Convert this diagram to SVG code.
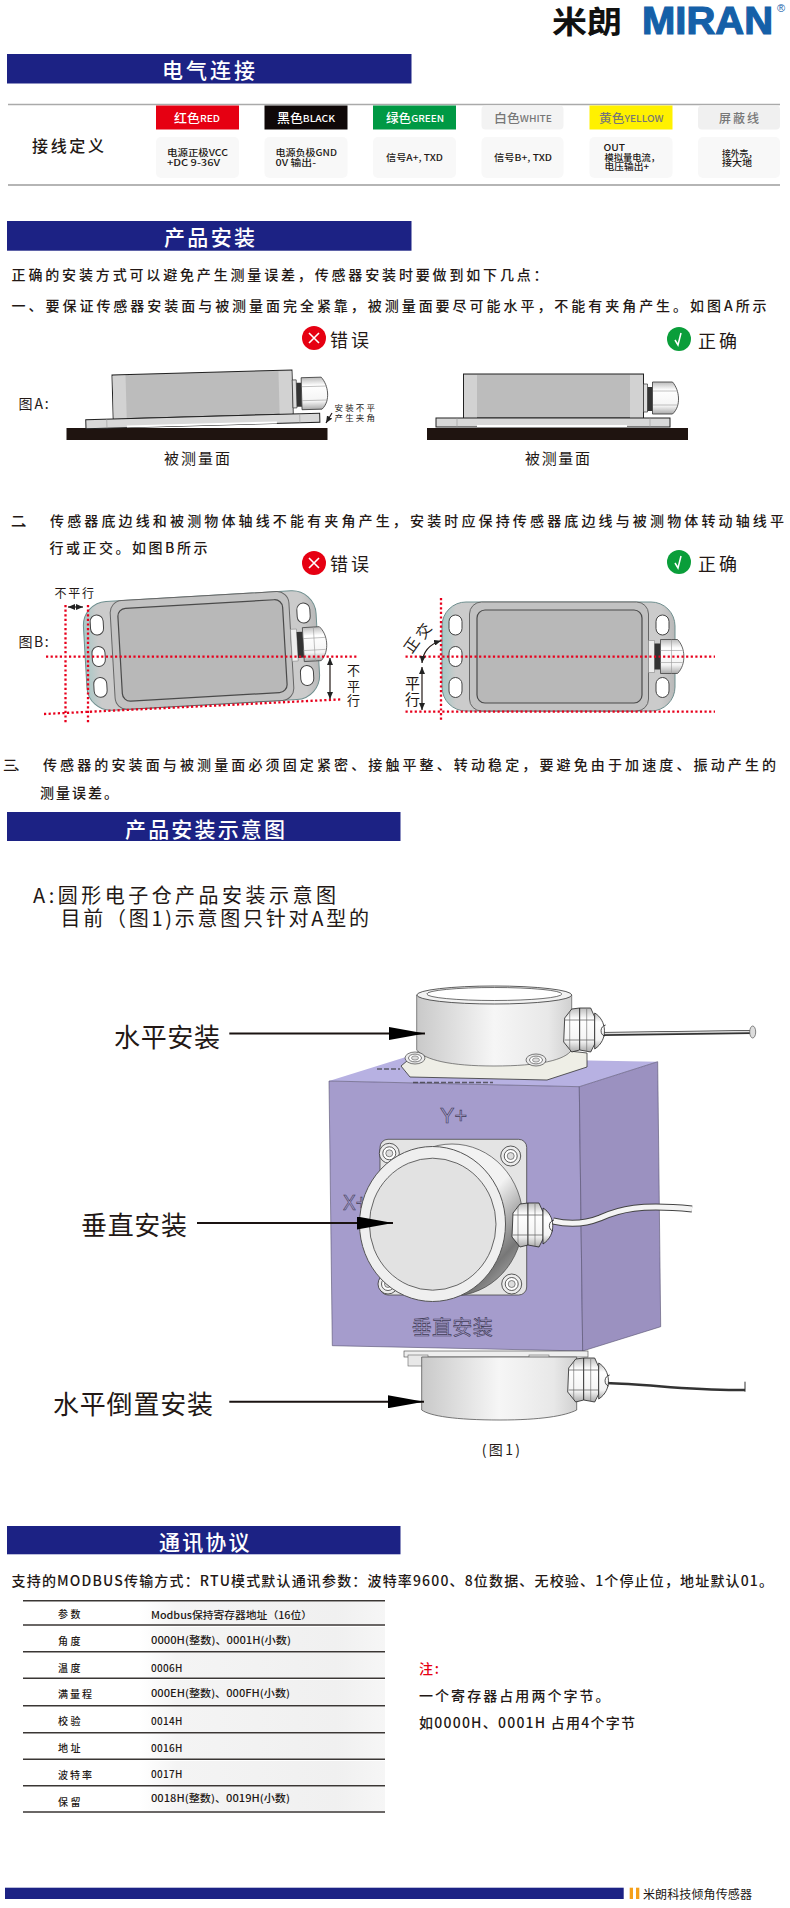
<svg xmlns="http://www.w3.org/2000/svg" xmlns:xlink="http://www.w3.org/1999/xlink" width="790" height="1908" viewBox="0 0 790 1908">
<style>
text{font-family:"Noto Sans CJK SC","Liberation Sans",sans-serif;fill:#231815;dominant-baseline:central}
.h{fill:#fff;font-size:21px;font-weight:500}
.b{font-size:14px;font-weight:500}
.c{font-size:12px;font-weight:500}
.c tspan{font-size:9.5px}
.d{font-size:9px;font-weight:500}
.s{font-size:8.500px}
.cap{font-size:15px}
.fig{font-size:15px}
.big{font-size:20px}
.lab{font-size:26px}
.tb{font-size:10px;font-weight:500}
.eng{fill:#a59ccc;stroke:#3f3b55;stroke-width:.6px}
.bar{fill:#1c2284}
.red{fill:none;stroke:#e8001c;stroke-width:2.300;stroke-dasharray:2.2 2.4}
.ln{fill:none;stroke:#231815;stroke-width:1.2}
.tl{stroke:#3a3634;stroke-width:1.5}
.cell{fill:#f8f8f8}
.hole{fill:#fff;stroke:#444;stroke-width:1}
.o{stroke:#222;stroke-width:.8}
</style>
<defs>
<linearGradient id="cyl" x1="0" x2="1" y1="0" y2="0"><stop offset="0" stop-color="#c9c9c9"/><stop offset=".5" stop-color="#f6f6f6"/><stop offset=".85" stop-color="#e8e8e8"/><stop offset="1" stop-color="#d0d0d0"/></linearGradient>
<linearGradient id="nut" x1="0" x2="0" y1="0" y2="1"><stop offset="0" stop-color="#bbb"/><stop offset=".25" stop-color="#fff"/><stop offset=".75" stop-color="#f4f4f4"/><stop offset="1" stop-color="#aaa"/></linearGradient>
<linearGradient id="row" x1="0" x2="1" y1="0" y2="0"><stop offset="0" stop-color="#fff"/><stop offset=".15" stop-color="#f4f4f4"/><stop offset=".8" stop-color="#f0f0f0"/><stop offset="1" stop-color="#f6f6f6"/></linearGradient>
<linearGradient id="ear" x1="0" x2="1" y1="0" y2="0"><stop offset="0" stop-color="#a8c8c6"/><stop offset=".06" stop-color="#cbcbcb"/><stop offset=".94" stop-color="#cbcbcb"/><stop offset="1" stop-color="#b8b8b8"/></linearGradient>
<linearGradient id="sh" x1="0" x2="1" y1="0" y2="1"><stop offset=".55" stop-color="#f2f2f2"/><stop offset=".8" stop-color="#777"/><stop offset="1" stop-color="#ccc"/></linearGradient>
<marker id="tipBig" markerUnits="userSpaceOnUse" markerWidth="36" markerHeight="13" refX="36" refY="6.5" orient="auto"><path d="M0,0L36,6.5L0,13z" fill="#000"/></marker>
<marker id="tipS" markerUnits="userSpaceOnUse" markerWidth="7" markerHeight="6" refX="7" refY="3" orient="auto-start-reverse"><path d="M0,0L7,3L0,6z" fill="#222"/></marker>
<g id="side">
<rect x="463.500" y="374" width="180" height="44" fill="#bcbcbc" stroke="#222" stroke-width="1"/>
<rect x="464" y="375" width="13" height="43" fill="#d2d2d2"/>
<rect x="630" y="375" width="13" height="43" fill="#d2d2d2"/>
<rect x="436" y="418" width="234" height="9" fill="#d8d8d8" stroke="#222" stroke-width="1"/>
<path d="M457,418v9M650,418v9" stroke="#999" stroke-width=".6"/>
<rect x="477" y="425" width="150" height="2" fill="#fff"/>
<path d="M643.500,384h4v28h-4z" fill="#ddd" stroke="#333" stroke-width=".7"/>
<path d="M647.500,387h5v24h-5z" fill="#333"/>
<path d="M652.500,382h20c7,8,9,24,0,32h-20z" fill="url(#nut)" stroke="#333" stroke-width=".8"/>
<path d="M653,391h25M653,405h25" stroke="#999" stroke-width=".6"/>
</g>
<g id="top">
<rect x="-116.500" y="-54.500" width="233" height="109" rx="24" fill="url(#ear)" stroke="#6f8f8f" stroke-width="1"/>
<rect x="-89" y="-54.500" width="179" height="109" rx="12" fill="#c2c2c2" stroke="#666" stroke-width="1"/>
<rect x="-81.500" y="-46.500" width="165" height="93" rx="8" fill="#b8b8b8" stroke="#4a4a4a" stroke-width="1.2"/>
<rect x="-109.500" y="-41.500" width="13" height="20" rx="6.500" class="hole"/>
<rect x="-109.500" y="-10" width="13" height="20" rx="6.500" class="hole"/>
<rect x="-109.500" y="21" width="13" height="20" rx="6.500" class="hole"/>
<rect x="97.500" y="-41.500" width="13" height="20" rx="6.500" class="hole"/>
<rect x="97.500" y="21" width="13" height="20" rx="6.500" class="hole"/>
<path d="M90,-16h6v32h-6z" fill="#eee" stroke="#888" stroke-width=".6"/>
<path d="M96,-13h6v26h-6z" fill="#333"/>
<path d="M102,-17h17c8,8,9,25,0,34h-17z" fill="url(#nut)" stroke="#444" stroke-width=".8"/>
<path d="M113,-17v34M102,-6h22M102,6h22" stroke="#999" stroke-width=".6"/>
</g>
<g id="gland">
<path d="M3,10L10,1L18,0V42L10,44L2,34Z" fill="url(#nut)" class="o"/>
<path d="M18,0L29,0L33,9V36L29,44L18,42Z" fill="url(#nut)" class="o"/>
<path d="M33,5C45,12,47,32,33,41Z" fill="url(#nut)" class="o"/>
<path d="M3,12H33M3,32H33" stroke="#555" stroke-width=".7" fill="none"/>
<path d="M8,3V42M25,1V43" stroke="#666" stroke-width=".6" fill="none"/>
<path d="M44,17C38,18,38,27,43,28" fill="none" stroke="#222" stroke-width=".8"/>
</g>
<g id="bolt">
<circle r="10" fill="#ececec" stroke="#333" stroke-width=".8"/>
<circle r="6.500" fill="#fff" stroke="#333" stroke-width=".8"/>
<circle r="3.500" fill="#ddd" stroke="#555" stroke-width=".7"/>
</g>
</defs>
<rect width="790" height="1908" fill="#fff"/>

<g id="logo">
<text x="552" y="19.500" font-size="31" font-weight="700" style="fill:#111" textLength="70" lengthAdjust="spacingAndGlyphs">米朗</text>
<text x="642" y="21" font-size="38" font-weight="700" style="font-family:'Liberation Sans',sans-serif;fill:#1560a8;stroke:#1560a8;stroke-width:1.2px" textLength="131" lengthAdjust="spacingAndGlyphs">MIRAN</text>
<text x="777" y="8" font-size="11" style="font-family:'Liberation Sans',sans-serif;fill:#1560a8">®</text>
</g>

<g id="section-electrical">
<rect class="bar" x="7" y="54" width="404.500" height="29.500"/>
<text class="h" x="162" y="69" textLength="93" lengthAdjust="spacing">电气连接</text>
</g>

<g id="wiring-table">
<path d="M8,104.500H780" stroke="#aaa" stroke-width="1.500"/>
<path d="M8,185H780" stroke="#b5b5b5" stroke-width="2"/>
<text x="32" y="145" font-size="16" font-weight="500" textLength="72" lengthAdjust="spacing">接线定义</text>
<rect class="cell" x="156" y="137" width="83" height="41" rx="5"/>
<rect class="cell" x="264.500" y="137" width="83" height="41" rx="5"/>
<rect class="cell" x="373" y="137" width="83" height="41" rx="5"/>
<rect class="cell" x="481.500" y="137" width="82" height="41" rx="5"/>
<rect class="cell" x="589.500" y="137" width="83" height="41" rx="5"/>
<rect class="cell" x="698" y="137" width="82" height="41" rx="5"/>
<g id="wire-red"><rect x="156" y="105.500" width="83" height="24" fill="#e60012"/><text class="c" style="fill:#fff" x="174" y="117.700" textLength="46" lengthAdjust="spacingAndGlyphs">红色<tspan style="fill:#fff">RED</tspan></text></g>
<g id="wire-black"><rect x="264.500" y="105.500" width="83" height="24" fill="#0f0808"/><text class="c" style="fill:#fff" x="277" y="117.700" textLength="58" lengthAdjust="spacingAndGlyphs">黑色<tspan style="fill:#fff">BLACK</tspan></text></g>
<g id="wire-green"><rect x="373" y="105.500" width="83" height="24" fill="#009944"/><text class="c" style="fill:#fff" x="386" y="117.700" textLength="58" lengthAdjust="spacingAndGlyphs">绿色<tspan style="fill:#fff">GREEN</tspan></text></g>
<g id="wire-white"><rect x="481.500" y="105.500" width="82" height="24" rx="4" fill="#f3f3f3"/><text class="c" style="fill:#777" x="494" y="117.700" textLength="58" lengthAdjust="spacingAndGlyphs">白色<tspan style="fill:#777">WHITE</tspan></text></g>
<g id="wire-yellow"><rect x="589.500" y="105.500" width="83" height="24" fill="#fff100"/><text class="c" style="fill:#777" x="599" y="117.700" textLength="64.500" lengthAdjust="spacingAndGlyphs">黄色<tspan style="fill:#777">YELLOW</tspan></text></g>
<g id="wire-shield"><rect x="698" y="105.500" width="82" height="24" rx="4" fill="#f0f0f0"/><text class="c" style="fill:#777" x="719" y="117.700" textLength="40" lengthAdjust="spacing">屏蔽线</text></g>
<text class="d" x="167" y="152.700" textLength="61" lengthAdjust="spacingAndGlyphs">电源正极VCC</text>
<text class="d" x="167" y="162.700" textLength="53" lengthAdjust="spacingAndGlyphs">+DC 9-36V</text>
<text class="d" x="275.500" y="152" textLength="61.500" lengthAdjust="spacingAndGlyphs">电源负极GND</text>
<text class="d" x="275.500" y="162" textLength="40.500" lengthAdjust="spacingAndGlyphs">0V 输出-</text>
<text class="d" x="386" y="157" textLength="57" lengthAdjust="spacingAndGlyphs">信号A+, TXD</text>
<text class="d" x="494" y="157" textLength="58" lengthAdjust="spacingAndGlyphs">信号B+, TXD</text>
<text class="d" x="603.500" y="147.600" textLength="21.500" lengthAdjust="spacingAndGlyphs">OUT</text>
<text class="d" x="604.500" y="157" textLength="55.500" lengthAdjust="spacingAndGlyphs">模拟量电流，</text>
<text class="d" x="604.500" y="166.700" textLength="44.500" lengthAdjust="spacingAndGlyphs">电压输出+</text>
<text class="d" x="722" y="153" textLength="35" lengthAdjust="spacingAndGlyphs">接外壳，</text>
<text class="d" x="722" y="162" textLength="30" lengthAdjust="spacingAndGlyphs">接大地</text>
</g>

<g id="section-install">
<rect class="bar" x="7" y="221" width="404.500" height="29.700"/>
<text class="h" x="164" y="236" textLength="91" lengthAdjust="spacing">产品安装</text>
<text class="b" x="11.600" y="274" textLength="536" lengthAdjust="spacing">正确的安装方式可以避免产生测量误差，传感器安装时要做到如下几点：</text>
<text class="b" x="11.600" y="305" textLength="755" lengthAdjust="spacing">一、要保证传感器安装面与被测量面完全紧靠，被测量面要尽可能水平，不能有夹角产生。如图A所示</text>
</g>

<g id="status-a-wrong"><circle cx="314" cy="338" r="12" fill="#e60012"/><path d="M309,333l10,10m0,-10l-10,10" stroke="#fff" stroke-width="1.600"/><text class="cap" style="font-size:18px" x="330" y="339" textLength="39" lengthAdjust="spacing">错误</text></g>
<g id="status-a-right"><circle cx="679" cy="339" r="12" fill="#0a9e3a"/><path d="M675,340l3,5l3,-12" fill="none" stroke="#fff" stroke-width="1.500"/><text class="cap" style="font-size:18px" x="698" y="340" textLength="39" lengthAdjust="spacing">正确</text></g>

<g id="figure-a">
<text class="fig" style="font-size:14px" x="18.600" y="403" textLength="30" lengthAdjust="spacing">图A:</text>
<rect x="66.500" y="428" width="261" height="12" fill="#1f1410"/>
<rect x="427" y="428" width="261" height="12" fill="#1f1410"/>
<use xlink:href="#side" transform="translate(112,375) rotate(-1.600) translate(-463.500,-374)"/>
<use xlink:href="#side"/>
<text class="s" x="334.500" y="407" textLength="40.500" lengthAdjust="spacing">安装不平</text>
<text class="s" x="334.500" y="417" textLength="40.500" lengthAdjust="spacing">产生夹角</text>
<path d="M332,413L326,423" class="ln" marker-end="url(#tipS)"/>
<text class="cap" x="164" y="457" textLength="66" lengthAdjust="spacing">被测量面</text>
<text class="cap" x="525" y="457" textLength="65" lengthAdjust="spacing">被测量面</text>
</g>

<g id="section-two">
<text class="b" x="11" y="520" textLength="24" lengthAdjust="spacing">二、</text>
<text class="b" x="50" y="520" textLength="734" lengthAdjust="spacing">传感器底边线和被测物体轴线不能有夹角产生，安装时应保持传感器底边线与被测物体转动轴线平</text>
<text class="b" x="49.400" y="547" textLength="158" lengthAdjust="spacing">行或正交。如图B所示</text>
</g>

<g id="status-b-wrong"><circle cx="314" cy="563" r="12" fill="#e60012"/><path d="M309,558l10,10m0,-10l-10,10" stroke="#fff" stroke-width="1.600"/><text class="cap" style="font-size:18px" x="330" y="563" textLength="39" lengthAdjust="spacing">错误</text></g>
<g id="status-b-right"><circle cx="679" cy="562" r="12" fill="#0a9e3a"/><path d="M675,563l3,5l3,-12" fill="none" stroke="#fff" stroke-width="1.500"/><text class="cap" style="font-size:18px" x="698" y="563" textLength="39" lengthAdjust="spacing">正确</text></g>

<g id="figure-b-wrong">
<text class="fig" style="font-size:14px" x="18.600" y="641" textLength="30" lengthAdjust="spacing">图B:</text>
<use xlink:href="#top" transform="translate(201.500,650.500) rotate(-3.300)"/>
<path class="red" d="M46,656.700H357M44,714L342.600,699.300M65.500,605V723M88,605V723"/>
<path d="M68,607H83" class="ln" marker-start="url(#tipS)" marker-end="url(#tipS)"/>
<path d="M330,658V699" class="ln" marker-start="url(#tipS)" marker-end="url(#tipS)"/>
<text x="54.500" y="592" font-size="12" textLength="39.500" lengthAdjust="spacing">不平行</text>
<text x="347" y="669" font-size="13">不</text>
<text x="347" y="685" font-size="13">平</text>
<text x="347" y="699" font-size="13">行</text>
</g>

<g id="figure-b-right">
<use xlink:href="#top" transform="translate(558.500,656.500)"/>
<path class="red" d="M405.500,656.700H715M405.500,711.700H715M441,598V722"/>
<path d="M441,640.700C430,644,423,652,422,663" class="ln" marker-start="url(#tipS)" marker-end="url(#tipS)"/>
<path d="M422,667V710" class="ln" marker-start="url(#tipS)" marker-end="url(#tipS)"/>
<text x="403" y="644" font-size="15" transform="rotate(-55 411 644)">正</text>
<text x="415" y="630" font-size="15" transform="rotate(-55 423 630)">交</text>
<text x="405" y="682" font-size="15">平</text>
<text x="405" y="698" font-size="15">行</text>
</g>

<g id="section-three">
<text class="b" x="3" y="764" textLength="25" lengthAdjust="spacing">三、</text>
<text class="b" x="43" y="764" textLength="733" lengthAdjust="spacing">传感器的安装面与被测量面必须固定紧密、接触平整、转动稳定，要避免由于加速度、振动产生的</text>
<text class="b" x="40" y="792" textLength="78" lengthAdjust="spacing">测量误差。</text>
</g>

<g id="section-diagram">
<rect class="bar" x="7" y="812" width="393.500" height="29"/>
<text class="h" x="125" y="828" textLength="160" lengthAdjust="spacing">产品安装示意图</text>
<text class="big" x="33" y="894" textLength="303" lengthAdjust="spacing">A:圆形电子仓产品安装示意图</text>
<text class="big" x="60.500" y="917.300" textLength="308.500" lengthAdjust="spacing">目前（图1)示意图只针对A型的</text>
</g>

<g id="cube">
<path d="M329,1081L406,1057L657.700,1061.700L579.300,1086.700Z" fill="#b7b1e2"/>
<path d="M329,1081L579.300,1086.700L582.700,1351L332.300,1345.700Z" fill="#a59ccc" stroke="#55506e" stroke-width=".6"/>
<path d="M579.300,1086.700L657.700,1061.700L660.700,1326.700L582.700,1351Z" fill="#9b91c0" stroke="#55506e" stroke-width=".6"/>
<path d="M413,1082.500H493M377,1069H400" stroke="#333" stroke-width="1.500" stroke-dasharray="5 2" opacity=".7"/>
<text class="eng" x="440" y="1115" font-size="22" style="font-family:'Liberation Sans',sans-serif" textLength="27" lengthAdjust="spacingAndGlyphs">Y+</text>
<text class="eng" x="343" y="1202" font-size="22" style="font-family:'Liberation Sans',sans-serif" textLength="24" lengthAdjust="spacingAndGlyphs">X+</text>
<text class="eng" x="411.700" y="1326" font-size="20" textLength="81" lengthAdjust="spacing">垂直安装</text>
</g>

<g id="sensor-top">
<path d="M401,1066L410,1077L547,1080L587,1067V1053L560,1050H420Z" fill="#eeeee6" stroke="#333" stroke-width=".8"/>
<path d="M416.700,995V1050C425,1060,450,1066,494,1066C540,1066,565,1060,571.700,1050V995Z" fill="url(#cyl)" stroke="#555" stroke-width=".7"/>
<ellipse cx="494.300" cy="995" rx="77.500" ry="9" fill="#f2f2f2" stroke="#333" stroke-width=".8"/>
<ellipse cx="494.300" cy="994" rx="67.500" ry="6.500" fill="#fff" stroke="#333" stroke-width=".7"/>
<use xlink:href="#bolt" transform="translate(415,1058) scale(1,.6)"/>
<use xlink:href="#bolt" transform="translate(536,1060) scale(1,.6)"/>
<path d="M602,1034L752,1032" stroke="#333" stroke-width="4"/>
<path d="M602,1033.500L752,1031.500" stroke="#ddd" stroke-width="1.500"/>
<ellipse cx="752.700" cy="1032" rx="3" ry="6" fill="#ddd" stroke="#555" stroke-width=".7"/>
<use xlink:href="#gland" transform="translate(561.700,1008)"/>
</g>

<g id="sensor-middle">
<rect x="380" y="1139.300" width="146.700" height="155.700" rx="8" fill="#e4e4e4" stroke="#444" stroke-width=".8"/>
<use xlink:href="#bolt" transform="translate(389.300,1153.300)"/>
<use xlink:href="#bolt" transform="translate(510.700,1156)"/>
<use xlink:href="#bolt" transform="translate(511.700,1284)"/>
<use xlink:href="#bolt" transform="translate(388,1284)"/>
<path d="M553,1221C570,1225,585,1224,600,1218C620,1209,640,1204,692,1209" fill="none" stroke="#444" stroke-width="7"/>
<path d="M553,1221C570,1225,585,1224,600,1218C620,1209,640,1204,692,1209" fill="none" stroke="#f4f4f4" stroke-width="5"/>
<ellipse cx="452" cy="1220" rx="71" ry="76" fill="url(#sh)" stroke="#444" stroke-width=".7"/>
<ellipse cx="432.500" cy="1224" rx="73" ry="77.500" fill="#efefef" stroke="#555" stroke-width="1"/>
<ellipse cx="432.700" cy="1224.200" rx="63.300" ry="66" fill="#e2e2e2" stroke="#444" stroke-width=".8"/>
<use xlink:href="#gland" transform="translate(510,1203)"/>
</g>

<g id="sensor-bottom">
<rect x="404" y="1351" width="184" height="6" fill="#eee" stroke="#444" stroke-width=".6"/>
<rect x="408" y="1355" width="20" height="11" fill="#e8e8e8" stroke="#666" stroke-width=".6"/>
<rect x="529" y="1355" width="20" height="11" fill="#e8e8e8" stroke="#666" stroke-width=".6"/>
<path d="M421.700,1357H576.700V1410C565,1416,540,1420,500,1420C455,1420,430,1416,421.700,1410Z" fill="url(#cyl)" stroke="#555" stroke-width=".8"/>
<path d="M606,1383C650,1384,690,1391,745,1390" fill="none" stroke="#333" stroke-width="2.500"/>
<path d="M745,1381.700V1391.700" stroke="#333" stroke-width="1"/>
<use xlink:href="#gland" transform="translate(565.700,1358)"/>
</g>

<text x="481.700" y="1449.300" font-size="14" textLength="38.300" lengthAdjust="spacing" id="fig-caption">(图1)</text>
<g id="label-horizontal"><text class="lab" x="114" y="1035" textLength="106" lengthAdjust="spacing">水平安装</text></g>
<g id="label-vertical"><text class="lab" x="81" y="1223" textLength="106" lengthAdjust="spacing">垂直安装</text></g>
<g id="label-inverted"><text class="lab" x="53" y="1402" textLength="160" lengthAdjust="spacing">水平倒置安装</text></g>

<g id="connectors" fill="none" stroke="#1a1311" stroke-width="2">
<path d="M229.300,1033.500H425" marker-end="url(#tipBig)"/>
<path d="M197,1223H393" marker-end="url(#tipBig)"/>
<path d="M229.300,1401.700H424" marker-end="url(#tipBig)"/>
</g>

<g id="section-protocol">
<rect class="bar" x="7" y="1526" width="393.500" height="28.300"/>
<text class="h" x="159" y="1540.700" textLength="90.400" lengthAdjust="spacing">通讯协议</text>
<text class="b" x="11.600" y="1580" textLength="761.400" lengthAdjust="spacing">支持的MODBUS传输方式：RTU模式默认通讯参数：波特率9600、8位数据、无校验、1个停止位，地址默认01。</text>
</g>

<g id="register-table">
<rect x="140" y="1602" width="245" height="22" fill="url(#row)"/>
<rect x="140" y="1627" width="245" height="24" fill="url(#row)"/>
<rect x="140" y="1653" width="245" height="24" fill="url(#row)"/>
<rect x="140" y="1680" width="245" height="25" fill="url(#row)"/>
<rect x="140" y="1707" width="245" height="25" fill="url(#row)"/>
<rect x="140" y="1734" width="245" height="25" fill="url(#row)"/>
<rect x="140" y="1761" width="245" height="24" fill="url(#row)"/>
<rect x="140" y="1787" width="245" height="24" fill="url(#row)"/>
<path class="tl" d="M23,1600.700H385M23,1625H385M23,1651.700H385M23,1678.300H385M23,1705.700H385M23,1732.700H385M23,1759.300H385M23,1785.700H385M23,1812H385"/>
<g id="row-0"><text class="tb" x="58" y="1613.300" textLength="22.600" lengthAdjust="spacing">参数</text><text class="tb" x="151" y="1614" textLength="161" lengthAdjust="spacingAndGlyphs">Modbus保持寄存器地址（16位）</text></g>
<g id="row-1"><text class="tb" x="58" y="1640" textLength="22.600" lengthAdjust="spacing">角度</text><text class="tb" x="151" y="1639.300" textLength="140" lengthAdjust="spacingAndGlyphs">0000H(整数)、0001H(小数)</text></g>
<g id="row-2"><text class="tb" x="58" y="1667.300" textLength="22.600" lengthAdjust="spacing">温度</text><text class="tb" x="151" y="1667.300" textLength="31.400" lengthAdjust="spacing">0006H</text></g>
<g id="row-3"><text class="tb" x="58" y="1693.300" textLength="34" lengthAdjust="spacing">满量程</text><text class="tb" x="151" y="1692.700" textLength="139" lengthAdjust="spacingAndGlyphs">000EH(整数)、000FH(小数)</text></g>
<g id="row-4"><text class="tb" x="58" y="1720.700" textLength="22.600" lengthAdjust="spacing">校验</text><text class="tb" x="151" y="1720" textLength="31.400" lengthAdjust="spacing">0014H</text></g>
<g id="row-5"><text class="tb" x="58" y="1747.700" textLength="22.600" lengthAdjust="spacing">地址</text><text class="tb" x="151" y="1747.300" textLength="31.400" lengthAdjust="spacing">0016H</text></g>
<g id="row-6"><text class="tb" x="58" y="1774.300" textLength="34" lengthAdjust="spacing">波特率</text><text class="tb" x="151" y="1773.300" textLength="31.400" lengthAdjust="spacing">0017H</text></g>
<g id="row-7"><text class="tb" x="58" y="1801.700" textLength="22.600" lengthAdjust="spacing">保留</text><text class="tb" x="151" y="1797.300" textLength="139" lengthAdjust="spacingAndGlyphs">0018H(整数)、0019H(小数)</text></g>
</g>

<g id="note">
<text class="b" style="fill:#e60012" x="419" y="1668.300" textLength="20" lengthAdjust="spacing">注:</text>
<text class="b" x="419" y="1695" textLength="190.600" lengthAdjust="spacing">一个寄存器占用两个字节。</text>
<text class="b" x="419" y="1721.700" textLength="216" lengthAdjust="spacing">如0000H、0001H 占用4个字节</text>
</g>

<g id="footer">
<rect class="bar" x="5" y="1887.700" width="618.700" height="11.300"/>
<rect x="629.700" y="1887.700" width="3.300" height="11.300" fill="#f5a01a"/>
<rect x="636" y="1887.700" width="3.300" height="11.300" fill="#f5a01a"/>
<text x="643" y="1893.700" font-size="12" textLength="109" lengthAdjust="spacing">米朗科技倾角传感器</text>
</g>
</svg>
